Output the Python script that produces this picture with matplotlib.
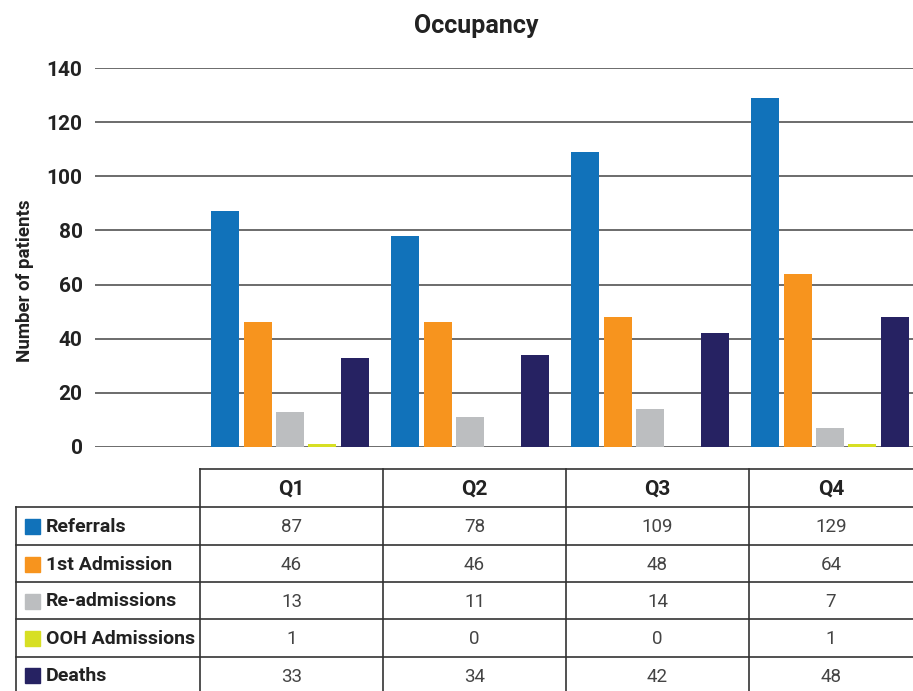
import numpy as np
import matplotlib
matplotlib.use("Agg")
import matplotlib.pyplot as plt

plt.rcParams['font.family'] = ['Roboto', 'DejaVu Sans']

# data
quarters = ["Q1", "Q2", "Q3", "Q4"]
series = ["Referrals", "1st Admission", "Re-admissions", "OOH Admissions", "Deaths"]
referrals = [87, 78, 109, 129]
first_admission = [46, 46, 48, 64]
readmissions = [13, 11, 14, 7]
ooh_admissions = [1, 0, 0, 1]
deaths = [33, 34, 42, 48]
values = [referrals, first_admission, readmissions, ooh_admissions, deaths]
colors = ["#1172BA", "#F7941E", "#BCBEC0", "#D7DF23", "#262262"]
yticks = [0, 20, 40, 60, 80, 100, 120, 140]

W, H = 913, 691
fig = plt.figure(figsize=(W / 100, H / 100), dpi=100)

# ---- bar chart ----
ax = fig.add_axes([95 / W, (H - 447) / H, (W - 95) / W, (447 - 68) / H])
x = np.arange(len(quarters))
step = 0.18
width = 0.155
for i, (vals, c) in enumerate(zip(values, colors)):
    ax.bar(x + (i - 2) * step, vals, width, color=c, zorder=3)

ax.set_xlim(-1.083, 3.461)
ax.set_ylim(0, 140)
ax.set_yticks(yticks)
ax.set_yticklabels([str(t) for t in yticks], fontsize=15, fontweight='bold', color='#222222')
ax.set_xticks([])
ax.tick_params(axis='y', length=0, pad=9)
for s in ax.spines.values():
    s.set_visible(False)
ax.grid(axis='y', color='#444444', linewidth=1.1, zorder=0)
ax.set_axisbelow(True)
ax.set_ylabel("Number of patients", fontsize=13.5, fontweight='bold', color='#222222')
ax.yaxis.set_label_coords(-0.074, 0.44)
fig.text(476 / W, 1 - 26 / H, "Occupancy", ha='center', va='center',
         fontsize=18, fontweight='bold', color='#222222')

# ---- data table underneath (pixel coordinates) ----
tb = fig.add_axes([0, 0, 1, 1], zorder=-1)
tb.set_xlim(0, W)
tb.set_ylim(H, 0)
tb.axis('off')

col_edges = [200, 383, 566, 749, 913]
row_edges = [507, 545, 582, 619, 657, 700]
line_kw = dict(color='#333333', linewidth=1.2)

tb.plot([200, W], [469, 469], **line_kw)
for y in row_edges[:-1]:
    tb.plot([16, W], [y, y], **line_kw)
tb.plot([16, 16], [507, H], **line_kw)
for cx in col_edges[:-1]:
    tb.plot([cx, cx], [469, H], **line_kw)

for j, q in enumerate(quarters):
    cx = (col_edges[j] + col_edges[j + 1]) / 2
    tb.text(cx, 489, q, ha='center', va='center', fontsize=15,
            fontweight='bold', color='#222222')

for i, (name, vals, c) in enumerate(zip(series, values, colors)):
    cy = (row_edges[i] + row_edges[i + 1]) / 2 if i < 4 else 675
    tb.add_patch(plt.Rectangle((25, cy - 7), 15, 15, color=c))
    tb.text(46, cy + 1, name, ha='left', va='center', fontsize=14,
            fontweight='bold', color='#222222')
    for j, v in enumerate(vals):
        cx = (col_edges[j] + col_edges[j + 1]) / 2
        tb.text(cx, cy + 1.5, str(v), ha='center', va='center', fontsize=13.5,
                fontweight='normal', color='#444444')

fig.savefig("out.png", dpi=100)
